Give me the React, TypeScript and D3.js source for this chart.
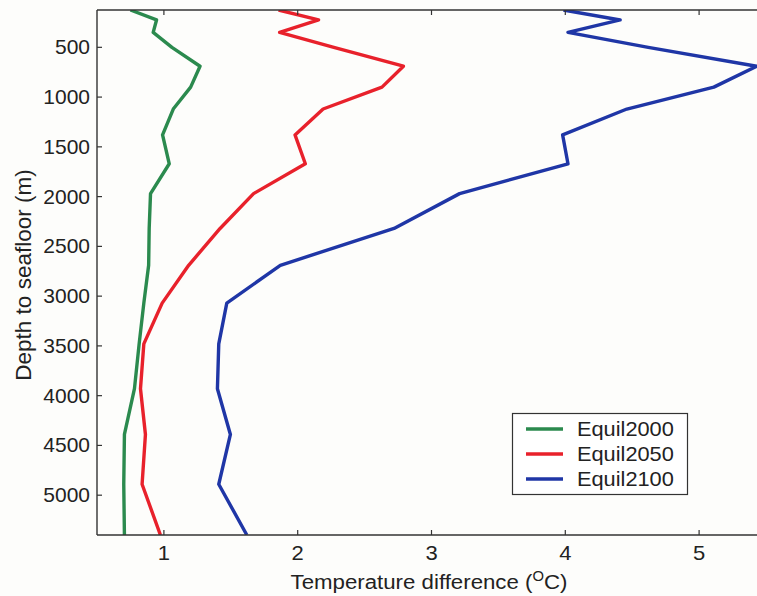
import React from "react";
import * as d3 from "d3";

const depths = [125, 225, 350, 500, 690, 900, 1120, 1380, 1670, 1970, 2320, 2690, 3070, 3480, 3930, 4390, 4890, 5400];
const equil2000 = [0.75, 0.945, 0.92, 1.06, 1.27, 1.2, 1.07, 0.99, 1.04, 0.9, 0.89, 0.886, 0.85, 0.815, 0.78, 0.705, 0.7, 0.705];
const equil2050 = [1.857, 2.156, 1.865, 2.27, 2.79, 2.63, 2.19, 1.98, 2.057, 1.67, 1.42, 1.185, 0.987, 0.85, 0.825, 0.862, 0.837, 0.974];
const equil2100 = [3.986, 4.41, 4.02, 4.62, 5.43, 5.11, 4.46, 3.98, 4.02, 3.21, 2.72, 1.87, 1.47, 1.41, 1.4, 1.497, 1.41, 1.62];
const seriesNames = ["Equil2000", "Equil2050", "Equil2100"];
const seriesColors = ["#2b8a4e", "#e8212b", "#1f36a6"];
const xTicks = [1, 2, 3, 4, 5];
const yTicks = [500, 1000, 1500, 2000, 2500, 3000, 3500, 4000, 4500, 5000];

const W = 757, H = 596;
const M = { left: 97, top: 10, right: 766, bottom: 535 };
const FONT = "'Liberation Sans', Arial, Helvetica, sans-serif";
const AX = "#333";

function T({ x, y, children, size = 19, anchor = "start", sx = 1.1, rotate = 0 }: any) {
  return (
    <g transform={`translate(${x},${y}) rotate(${rotate}) scale(${sx},1)`}>
      <text fontFamily={FONT} fontSize={size} textAnchor={anchor} fill="#222">{children}</text>
    </g>
  );
}

export default function App() {
  const x = d3.scaleLinear().domain([0.5, 5.5]).range([M.left, M.right]);
  const y = d3.scaleLinear().domain([125, 5400]).range([M.top, M.bottom]);
  const all = [equil2000, equil2050, equil2100];
  const line = d3.line<[number, number]>().x((d) => x(d[0])).y((d) => y(d[1]));
  const tl = 5;
  return (
    <svg width={W} height={H} style={{ position: "absolute", left: 0, top: 0, background: "#fdfdfb" }}>
      <defs>
        <clipPath id="plot">
          <rect x={M.left} y={M.top} width={M.right - M.left} height={M.bottom - M.top} />
        </clipPath>
      </defs>
      <g clipPath="url(#plot)">
        {all.map((vals, i) => (
          <path key={i} d={line(vals.map((v, j) => [v, depths[j]]) as [number, number][]) || ""}
            fill="none" stroke={seriesColors[i]} strokeWidth={3.4} strokeLinejoin="round" />
        ))}
      </g>
      {/* frame */}
      <line x1={M.left} x2={M.left} y1={M.top} y2={M.bottom} stroke={AX} strokeWidth={1.4} />
      <line x1={M.left} x2={W + 20} y1={M.bottom} y2={M.bottom} stroke={AX} strokeWidth={1.4} />
      <line x1={M.left} x2={W + 20} y1={M.top} y2={M.top} stroke={AX} strokeWidth={1.4} />
      {xTicks.map((t) => (
        <g key={t}>
          <line x1={x(t)} x2={x(t)} y1={M.bottom} y2={M.bottom - tl} stroke={AX} strokeWidth={1.2} />
          <line x1={x(t)} x2={x(t)} y1={M.top} y2={M.top + tl} stroke={AX} strokeWidth={1.2} />
          <T x={x(t)} y={560} anchor="middle" size={20}>{t}</T>
        </g>
      ))}
      {yTicks.map((t) => (
        <g key={t}>
          <line x1={M.left} x2={M.left + tl} y1={y(t)} y2={y(t)} stroke={AX} strokeWidth={1.2} />
          <T x={90} y={y(t) + 7} anchor="end" size={20} sx={1.05}>{t}</T>
        </g>
      ))}
      <g transform={`translate(429,589) scale(1.06,1)`}>
        <text fontFamily={FONT} fontSize={21} textAnchor="middle" fill="#222">
          Temperature difference (<tspan fontSize={14} dy={-8}>O</tspan><tspan dy={8}>C)</tspan>
        </text>
      </g>
      <T x={31} y={275} anchor="middle" size={22.5} sx={1} rotate={-90}>Depth to seafloor (m)</T>
      {/* legend */}
      <rect x={512.5} y={413.5} width={175} height={81} fill="#fff" stroke={AX} strokeWidth={1.2} />
      {seriesNames.map((n, i) => (
        <g key={n}>
          <line x1={526} x2={563} y1={429 + i * 25} y2={429 + i * 25} stroke={seriesColors[i]} strokeWidth={3.4} />
          <T x={577} y={429 + i * 25 + 7} size={19.8}>{n}</T>
        </g>
      ))}
    </svg>
  );
}
